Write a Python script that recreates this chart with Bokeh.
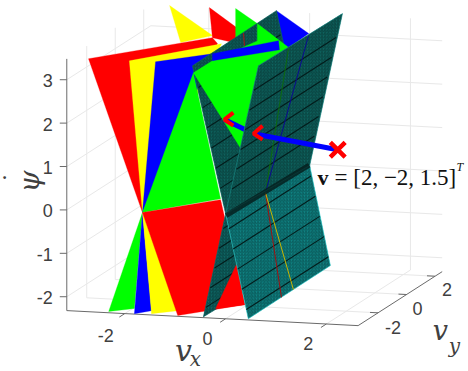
import numpy as np
from bokeh.plotting import figure
from bokeh.embed import file_html
from bokeh.resources import INLINE
from bokeh.core.properties import value

# ---- data: axes ----
vx_ticks = [-2, 0, 2]
vy_ticks = [-2, 0, 2]
psi_ticks = [-2, -1, 0, 1, 2, 3]
vx_lim = [-3.15, 2.63]
vy_lim = [-3.4, 2.5]
psi_lim = [-2.32, 3.48]

# ---- data: coloured planes, vertices (vx, vy, psi) ----
NEAR, FAR = -3.36, 2.4
pinch = (-1.66, NEAR, 0.02)
yellow_tip = [(-2.75, FAR, 3.51), (-1.90, FAR, 2.87), (-2.53, FAR, 2.67)]
red_tip = [(-1.96, FAR, 3.51), (-1.28, FAR, 2.97), (-1.22, FAR, 2.68), (-1.90, FAR, 2.82)]
green_tip = [(-1.44, FAR, 3.52), (-1.01, FAR, 3.20), (-1.01, FAR, 2.76), (-1.44, FAR, 2.73)]
blue_tip = [(-0.63, FAR, 3.52), (0.01, FAR, 3.03), (-0.39, FAR, 2.68), (-0.63, FAR, 2.67)]
red_upper = [(-2.73, NEAR, 3.50), (-1.90, FAR, 2.82), (-1.80, FAR, 2.69), pinch]
yellow_upper = [(-1.92, NEAR, 3.50), (-1.72, FAR, 2.69), pinch]
blue_upper = [(-1.40, NEAR, 3.51), (-1.90, FAR, 2.45), pinch]
green_upper = [(-0.65, NEAR, 3.30), (-0.11, NEAR, 0.43), pinch]
green_front = [(-0.65, NEAR, 3.30), (-1.90, FAR, 2.29), (-1.01, FAR, 2.80), (-1.01, FAR, 3.20),
               (-0.25, FAR, 2.57), (0.64, NEAR, 2.74), (0.29, NEAR, 1.61)]
blue_band = [(-1.90, FAR, 2.45), (-0.59, FAR, 2.83), (-0.57, FAR, 2.62), (-1.90, FAR, 2.29)]
green_lower = [pinch, (-2.33, NEAR, -2.30), (-1.82, NEAR, -2.20)]
blue_lower = [pinch, (-1.82, NEAR, -2.32), (-1.48, NEAR, -2.23)]
yellow_lower = [pinch, (-1.48, NEAR, -2.30), (-0.96, NEAR, -2.20)]
red_lower = [pinch, (-0.11, NEAR, 0.41), (0.37, NEAR, -1.98), (-0.96, NEAR, -2.31)]
red_wedge = [(-0.21, NEAR, -2.11), (0.21, NEAR, -1.05), (0.37, NEAR, -1.98)]

# ---- data: the two crossing sheets ----
a_upper = [(-0.667, NEAR, 3.46), (-0.63, FAR, 3.52), (0.03, FAR, -0.01), (-0.01, NEAR, 0.09)]
b_upper = [(0.64, NEAR, 3.54), (0.68, FAR, 3.53), (0.03, FAR, -0.01), (-0.01, NEAR, 0.09)]
a_lower = [(-0.01, NEAR, 0.09), (0.03, FAR, -0.01), (0.44, FAR, -2.29), (0.44, NEAR, -2.30)]
b_lower = [(-0.01, NEAR, 0.09), (0.03, FAR, -0.01), (-0.41, FAR, -2.34), (-0.45, NEAR, -2.31)]
mesh_psi_up = [0.67, 1.13, 1.59, 2.05, 2.51, 2.97]
mesh_psi_low = [-2.09, -1.63, -1.17, -0.71, -0.25]
cross_point = (0.0, -0.6, 0.0)
green_trace = [(0.65, -1.28, 3.5), cross_point]
blue_trace = [(0.65, 0.12, 3.5), cross_point]
red_trace = [(0.44, -1.03, -2.3), cross_point]
yellow_trace = [(0.44, -0.19, -2.3), cross_point]
red_trace_top = [(-0.66, 0.2, 3.46), (-0.61, 0.08, 3.2)]

# ---- data: the vector and its two images ----
v_point = (1.83, -2.0, 1.39)
v_on_b = (0.16, -2.0, 1.66)
v_on_a = (-0.42, -2.0, 1.95)


def proj(vx, vy, psi):
    return (273.5 + 50.4 * vx + 14.25 * vy,
            186.5 + 2.6 * vx - 9.15 * vy - 43.4 * psi)


def pp(pts):
    xy = [proj(*q) for q in pts]
    return [c[0] for c in xy], [c[1] for c in xy]


p = figure(width=468, height=371, output_backend="svg", toolbar_location=None,
           x_range=(0, 468), y_range=(371, 0), min_border=0)
p.axis.visible = False
p.grid.visible = False
p.outline_line_color = None
p.background_fill_color = "white"
p.border_fill_color = "white"

GRID = "#e8e8e8"
AXIS = "#6a6a6a"
TXT = "#404040"
x0, x1 = vx_lim
y0, y1 = vy_lim
z0, z1 = psi_lim


def seg(a, b, color, w=1.0, alpha=1.0):
    xs, ys = pp([a, b])
    p.line(xs, ys, line_color=color, line_width=w, line_alpha=alpha)


# grid
for t in psi_ticks:
    seg((x0, y0, t), (x0, y1, t), GRID)
    seg((x0, y1, t), (x1, y1, t), GRID)
for t in vy_ticks:
    seg((x0, t, z0), (x0, t, z1), GRID)
    seg((x0, t, z0), (x1, t, z0), GRID)
for t in vx_ticks:
    seg((t, y1, z0), (t, y1, z1), GRID)
    seg((t, y0, z0), (t, y1, z0), GRID)

# axes
seg((x0, y0, z0), (x0, y0, z1), AXIS)
seg((x0, y0, z0), (x1, y0, z0), AXIS)
seg((x1, y0, z0), (x1, y1, z0), AXIS)
for t in psi_ticks:
    sx, sy = proj(x0, y0, t)
    p.line([sx - 7, sx], [sy, sy], line_color=AXIS)
for t in vx_ticks:
    seg((t, y0, z0), (t, y0 - 0.38, z0), AXIS)
for t in vy_ticks:
    seg((x1, t, z0), (x1 - 0.16, t, z0), AXIS)


def poly(pts, color):
    xs, ys = pp(pts)
    p.patch(xs, ys, fill_color=color, line_color=color, line_width=0.3)


def sheet(pts, base, dark, edge):
    xs, ys = pp(pts)
    p.patch(xs, ys, fill_color=base, line_color=edge, line_width=0.6,
            hatch_pattern="right_diagonal_line", hatch_color=dark,
            hatch_scale=3.2, hatch_weight=1.0)


def mesh(psis, sign):
    for t in psis:
        vx = sign * float(np.interp(t, [-2.3, 3.5], [0.44, -0.65]))
        seg((vx, NEAR, t), (vx, FAR, t), "#031c1b", 1.1, 1.0)


RED, YEL, GRN, BLU = "#ff0000", "#ffff00", "#00ff00", "#0000ff"
poly(yellow_tip, YEL)
poly(red_tip, RED)
poly(green_tip, GRN)
poly(blue_tip, BLU)
poly(red_upper, RED)
poly(yellow_upper, YEL)
poly(blue_upper, BLU)
poly(green_upper, GRN)
poly(green_lower, GRN)
poly(blue_lower, BLU)
poly(yellow_lower, YEL)
poly(red_lower, RED)

sheet(a_upper, "#0e6460", "#094340", "#0e6460")
mesh(mesh_psi_up, 1)
xs, ys = pp(red_trace_top)
p.line(xs, ys, line_color="#b01010", line_width=1)
poly(green_front, GRN)
poly(blue_band, BLU)

# arrow behind the sheet
xs, ys = pp([v_on_b, v_on_a])
p.line(xs, ys, line_color=BLU, line_width=5)
ax, ay = proj(*v_on_a)
p.multi_line([[ax + 9, ax, ax + 9]], [[ay - 7, ay, ay + 6]], line_color=RED, line_width=4)

sheet(b_lower, "#0e6866", "#094544", "#0e6866")
mesh(mesh_psi_low, -1)
poly(red_wedge, RED)
sheet(b_upper, "#0e6460", "#094340", "#1a8a86")
mesh(mesh_psi_up, -1)
for tr, c in ((green_trace, "#0c6a10"), (blue_trace, "#0a0a90")):
    xs, ys = pp(tr)
    p.line(xs, ys, line_color=c, line_width=1)
sheet(a_lower, "#0f8585", "#0a5a5b", "#30d0d0")
mesh(mesh_psi_low, 1)
for tr, c in ((red_trace, "#a01010"), (yellow_trace, "#c8b400")):
    xs, ys = pp(tr)
    p.line(xs, ys, line_color=c, line_width=1)

# crossing line
seg((0.0, NEAR, 0.05), (0.02, FAR, 0.0), "#05201f", 5, 0.85)

# arrow in front
xs, ys = pp([v_point, v_on_b])
p.line(xs, ys, line_color=BLU, line_width=5)
bx, by = proj(*v_on_b)
p.multi_line([[bx + 9, bx, bx + 9]], [[by - 8, by, by + 6]], line_color=RED, line_width=4)
vx_, vy_ = proj(*v_point)
p.scatter([vx_], [vy_], marker="x", size=21, line_color=RED, line_width=4.5)

# tick labels
SANS = value("Liberation Sans")
for t, dx, dy in zip(vx_ticks, [-19, -18, -18], [22, 20, 20]):
    sx, sy = proj(t, y0, z0)
    p.text([sx + dx], [sy + dy], text=[str(t)], text_font=SANS, text_font_size="18px",
           text_color=TXT, text_align="center", text_baseline="middle")
for t, dx, dy in zip(vy_ticks, [15, 11, 12], [15, 14, 13]):
    sx, sy = proj(x1, t, z0)
    p.text([sx + dx], [sy + dy], text=[str(t)], text_font=SANS, text_font_size="18px",
           text_color=TXT, text_align="center", text_baseline="middle")
for t in psi_ticks:
    sx, sy = proj(x0, y0, t)
    p.text([sx - 14], [sy + 1], text=[str(t)], text_font=SANS, text_font_size="18px",
           text_color=TXT, text_align="right", text_baseline="middle")


# axis titles and annotation
def label(x, y, s, size, font="DejaVu Serif", style="italic", color="#404040",
          angle=0.0, align="center", base="middle"):
    p.text([x], [y], text=[s], text_font=value(font), text_font_size=size,
           text_font_style=style, text_color=color, angle=angle,
           text_align=align, text_baseline=base)


label(183, 350, "v", "30px")
label(195, 358, "x", "20px")
label(440, 330, "v", "27px")
label(454, 345, "y", "20px")
label(29, 181, "ψ", "28px", angle=np.pi / 2)
label(13, 177, "˙", "24px", style="normal", angle=np.pi / 2)
label(317, 177, "v", "22px", font="Liberation Serif", style="bold", color="#111111", align="left", base="alphabetic")
label(334, 177, "= [2, −2, 1.5]", "23px", font="Liberation Serif", style="normal", color="#111111", align="left", base="alphabetic")
label(456, 166, "T", "12px", font="Liberation Serif", color="#111111", align="left", base="alphabetic")

open("out.html", "w").write(file_html(p, INLINE))
